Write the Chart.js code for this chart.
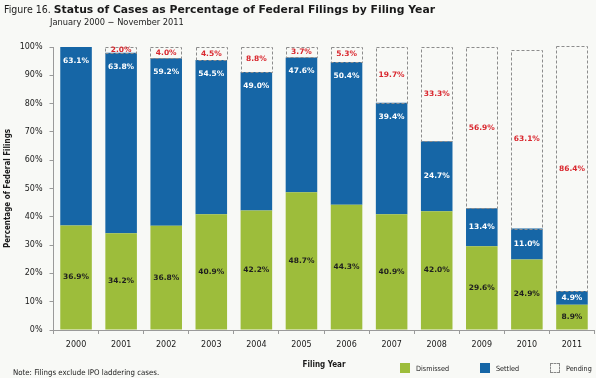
<!DOCTYPE html>
<html>
<head>
<meta charset="utf-8">
<script src="https://cdn.jsdelivr.net/npm/chart.js@4.4.1/dist/chart.umd.min.js"></script>
<style>
  html, body { margin: 0; padding: 0; background: #f8f9f6; }
  #wrap { position: relative; width: 596px; height: 378px; overflow: hidden; font-family: 'DejaVu Sans Condensed', 'DejaVu Sans', sans-serif; color: #1a1a1a; }
  #chart { position: absolute; left: 0; top: 0; }
  .title { position: absolute; left: 4px; top: 3px; font-size: 10.5px; white-space: nowrap; }
  .title b { font-family: 'DejaVu Sans', sans-serif; font-size: 10.8px; font-weight: bold; }
  .subtitle { position: absolute; left: 50px; top: 16px; font-size: 9.2px; white-space: nowrap; }
  .note { position: absolute; left: 13px; top: 368px; font-size: 7.8px; white-space: nowrap; }
  .legend { position: absolute; top: 363px; font-size: 7.2px; display: flex; align-items: center; white-space: nowrap; }
  .legend span.box { display: inline-block; width: 10px; height: 10px; margin-right: 6px; box-sizing: border-box; }
</style>
</head>
<body>
<div id="wrap">
  <canvas id="chart" width="596" height="378"></canvas>
  <div class="title">Figure 16. <b>Status of Cases as Percentage of Federal Filings by Filing Year</b></div>
  <div class="subtitle">January 2000 − November 2011</div>
  <div class="note">Note: Filings exclude IPO laddering cases.</div>
  <div class="legend" style="left:400px"><span class="box" style="background:#9dbd3b"></span>Dismissed</div>
  <div class="legend" style="left:480px"><span class="box" style="background:#1666a6"></span>Settled</div>
  <div class="legend" style="left:550px"><span class="box" style="border:1px dashed #888"></span>Pending</div>
</div>
<script>
const years = ['2000', '2001', '2002', '2003', '2004', '2005', '2006', '2007', '2008', '2009', '2010', '2011'];
const dismissed = [36.9, 34.2, 36.8, 40.9, 42.2, 48.7, 44.3, 40.9, 42.0, 29.6, 24.9, 8.9];
const settled = [63.1, 63.8, 59.2, 54.5, 49.0, 47.6, 50.4, 39.4, 24.7, 13.4, 11.0, 4.9];
const pending = [0, 2.0, 4.0, 4.5, 8.8, 3.7, 5.3, 19.7, 33.3, 56.9, 63.1, 86.4];
const yTicks = [0, 10, 20, 30, 40, 50, 60, 70, 80, 90, 100];

const GREEN = '#9dbd3b';
const BLUE = '#1666a6';
const RED = '#d9272e';
const BG = '#f8f9f6';

// dashed outline for the pending boxes plus the value labels
const barLabels = {
  id: 'barLabels',
  afterDatasetsDraw(chart) {
    const { ctx } = chart;
    ctx.save();
    const pendMeta = chart.getDatasetMeta(2);
    ctx.strokeStyle = '#8c8c8c';
    ctx.lineWidth = 1;
    ctx.setLineDash([3, 2]);
    pendMeta.data.forEach((el, i) => {
      if (!pending[i]) return;
      const half = el.width / 2;
      ctx.strokeRect(Math.round(el.x - half) + 0.5, Math.round(el.y) + 0.5, Math.round(el.width) - 1, Math.round(el.base - el.y));
    });
    ctx.setLineDash([]);
    ctx.font = 'bold 7.5px "DejaVu Sans", sans-serif';
    ctx.textAlign = 'center';
    ctx.textBaseline = 'middle';
    chart.data.datasets.forEach((ds, di) => {
      const meta = chart.getDatasetMeta(di);
      meta.data.forEach((el, i) => {
        const v = ds.data[i];
        if (!v) return;
        const h = el.base - el.y;
        let ty = el.y + h / 2;
        if (di === 1 && h > 90) ty = el.y + 14;
        ctx.fillStyle = di === 0 ? '#1f1f1f' : di === 1 ? '#ffffff' : RED;
        ctx.fillText(v.toFixed(1) + '%', el.x, ty);
      });
    });
    ctx.restore();
  },
};

new Chart(document.getElementById('chart'), {
  type: 'bar',
  data: {
    labels: years,
    datasets: [
      { label: 'Dismissed', data: dismissed, backgroundColor: GREEN },
      { label: 'Settled', data: settled, backgroundColor: BLUE },
      { label: 'Pending', data: pending, backgroundColor: BG },
    ],
  },
  options: {
    responsive: false,
    animation: false,
    layout: { padding: { top: 47, right: 1.5, left: 0, bottom: 0 } },
    datasets: { bar: { categoryPercentage: 1, barPercentage: 0.7, borderWidth: 0 } },
    scales: {
      x: {
        stacked: true,
        afterFit: (scale) => { scale.height = 48; },
        grid: { drawOnChartArea: false, tickLength: 4, color: '#9a9a9a' },
        border: { color: '#9a9a9a' },
        ticks: { color: '#1a1a1a', font: { family: 'DejaVu Sans', size: 8 }, padding: 6, maxRotation: 0 },
        title: {
          display: true,
          text: 'Filing Year',
          color: '#1a1a1a',
          font: { family: 'DejaVu Sans Condensed', size: 8, weight: 'bold' },
          padding: { bottom: 8 },
        },
      },
      y: {
        stacked: true,
        min: 0,
        max: 100,
        afterFit: (scale) => { scale.width = 53.5; },
        afterBuildTicks: (scale) => { scale.ticks = yTicks.map((v) => ({ value: v })); },
        grid: { drawOnChartArea: false, tickLength: 4, color: '#9a9a9a' },
        border: { color: '#9a9a9a' },
        ticks: {
          color: '#1a1a1a',
          font: { family: 'DejaVu Sans', size: 8 },
          padding: 7,
          callback: (v) => v + '%',
        },
        title: {
          display: true,
          text: 'Percentage of Federal Filings',
          color: '#1a1a1a',
          font: { family: 'DejaVu Sans Condensed', size: 8, weight: 'bold' },
          padding: { top: 3 },
        },
      },
    },
    plugins: {
      legend: { display: false },
      tooltip: { enabled: false },
    },
  },
  plugins: [barLabels],
});
</script>
</body>
</html>
